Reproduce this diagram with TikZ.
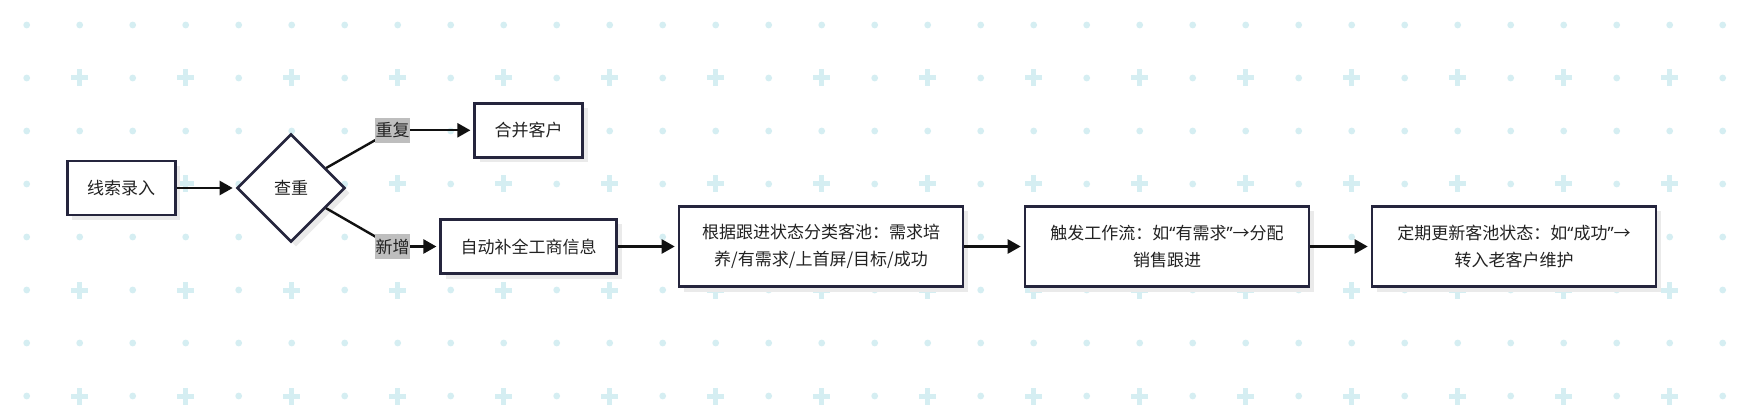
\documentclass[tikz,border=0pt]{standalone}
\usepackage{fontspec}
\newfontfamily\cjk{Noto Sans CJK SC}
\newfontfamily\latq{Noto Sans}
\newcommand\myLq{{\latq “}}
\newcommand\myRq{{\latq ”}}
\usetikzlibrary{shapes.geometric,arrows.meta,shadows}
\definecolor{gridc}{HTML}{D5EEF2}
\definecolor{bordc}{HTML}{25253D}
\definecolor{txtc}{HTML}{222222}
\definecolor{lblc}{HTML}{BEBEBE}
\definecolor{shdc}{HTML}{EAEAEA}
\definecolor{edgec}{HTML}{111111}
\tikzset{
  shd/.style={drop shadow={shadow xshift=5pt, shadow yshift=-5pt, fill=shdc, opacity=1}},
  box/.style={draw=bordc, line width=2.6pt, fill=white, align=center,
    font=\cjk\fontsize{17}{26.7}\selectfont, text=txtc, inner sep=0pt, shd},
  dia/.style={box, shape=diamond, aspect=1, minimum width=108pt, minimum height=108pt},
  lbl/.style={fill=lblc, font=\cjk\fontsize{17}{20}\selectfont, text=txtc,
    inner sep=0pt, minimum width=35pt, minimum height=25pt},
  arr/.style={draw=edgec, line width=2.4pt, -{Triangle[length=13pt,width=14pt]}, shorten >=3pt},
  edge/.style={draw=edgec, line width=2.4pt}
}
\begin{document}
\begin{tikzpicture}[x=1pt,y=-1pt]
\useasboundingbox (0,0) rectangle (1754,406);
\fill[white] (0,0) rectangle (1754,406);
% background grid
\foreach \i in {0,...,32}{
  \foreach \j in {0,...,7}{
    \pgfmathsetmacro\xx{26.7+53*\i}
    \pgfmathsetmacro\yy{25+53*\j}
    \pgfmathtruncatemacro\pl{mod(\i,2)*mod(\j,2)}
    \ifnum\pl=1
      \fill[gridc] (\xx-8.5,\yy-2.5) rectangle (\xx+8.5,\yy+2.5);
      \fill[gridc] (\xx-2.5,\yy-8.5) rectangle (\xx+2.5,\yy+8.5);
    \else
      \fill[gridc] (\xx,\yy) circle (3.4);
    \fi
  }
}
% nodes
\node[box, minimum width=108pt, minimum height=54pt] (n1) at (121.2,188) {线索录入};
\node[dia] (d) at (291,188) {查重};
\node[box, minimum width=108pt, minimum height=54pt] (n2) at (528.7,130.3) {合并客户};
\node[box, minimum width=176pt, minimum height=54pt] (n3) at (528.7,246.5) {自动补全工商信息};
\node[box, minimum width=284pt, minimum height=80pt] (n4) at (821,246.5) {根据跟进状态分类客池：需求培\\养/有需求/上首屏/目标/成功};
\node[box, minimum width=284pt, minimum height=80pt] (n5) at (1167,246.5) {触发工作流：如\myLq 有需求\myRq→分配\\销售跟进};
\node[box, minimum width=284pt, minimum height=80pt] (n6) at (1514,246.5) {定期更新客池状态：如\myLq 成功\myRq→\\转入老客户维护};
\coordinate (c1) at (392.5,130.3);
\coordinate (c2) at (392.5,246.5);
% connectors
\draw[arr] (n1) -- (d);
\draw[edge] (d) -- (c1);
\draw[arr] (c1) -- (n2);
\draw[edge] (d) -- (c2);
\draw[arr] (c2) -- (n3);
\draw[arr] (n3) -- (n4);
\draw[arr] (n4) -- (n5);
\draw[arr] (n5) -- (n6);
% edge labels
\node[lbl] (l1) at (c1) {重复};
\node[lbl] (l2) at (c2) {新增};
\end{tikzpicture}
\end{document}
